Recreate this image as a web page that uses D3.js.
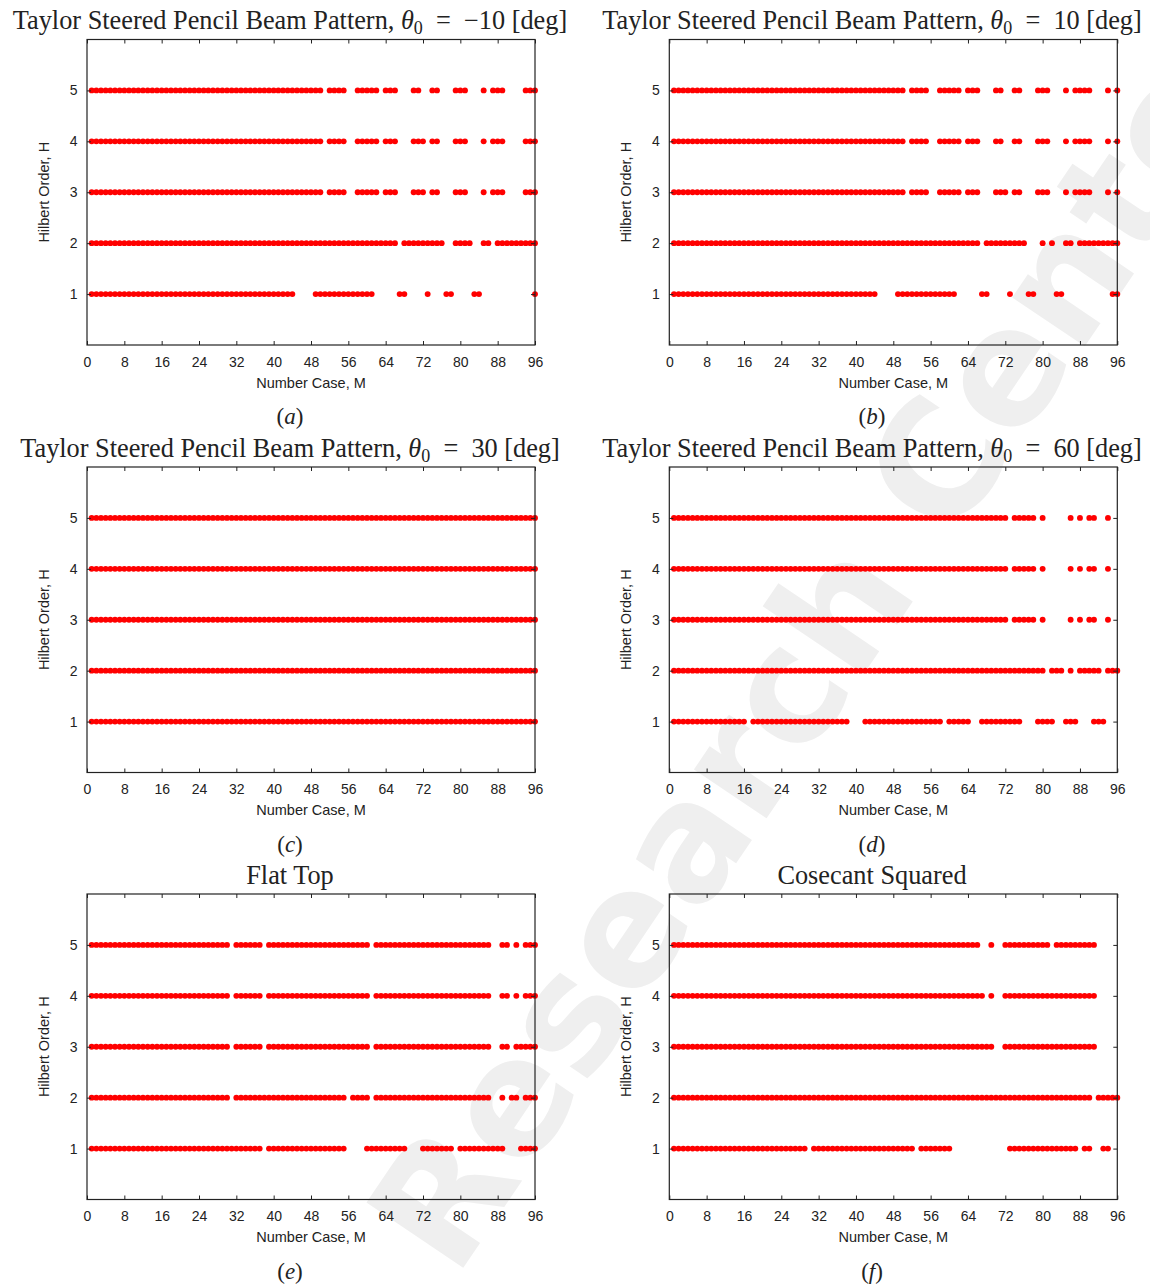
<!DOCTYPE html>
<html>
<head>
<meta charset="utf-8">
<script src="https://cdn.jsdelivr.net/npm/d3@7"></script>
<style>
  body { margin: 0; background: #fff; }
  .tick text { font-family: "Liberation Sans", Arial, sans-serif; font-size: 14px; fill: #222; }
  .axisTitle { font-family: "Liberation Sans", Arial, sans-serif; font-size: 14.5px; fill: #222; }
  .serif { font-family: "Liberation Serif", "Times New Roman", serif; fill: #222; }
</style>
</head>
<body>
<svg id="fig" width="1150" height="1288"></svg>
<script>
// tick labels
const xTicks = [0, 8, 16, 24, 32, 40, 48, 56, 64, 72, 80, 88, 96];
const hTicks = [1, 2, 3, 4, 5];

// panel titles
const steerAngles = [-10, 10, 30, 60];
const shapeTitles = ['Flat Top', 'Cosecant Squared'];
const subLabels = ['a', 'b', 'c', 'd', 'e', 'f'];

// cases M found for each Hilbert order, as [first, last] runs (rows H=1..5)
const runsA = [
  [[1, 44], [49, 61], [67, 68], [73, 73], [77, 78], [83, 84], [96, 96]],
  [[1, 66], [68, 76], [79, 82], [85, 86], [88, 96]],
  [[1, 50], [52, 55], [58, 62], [64, 66], [70, 72], [74, 75], [79, 81], [85, 85], [87, 89], [94, 96]],
  [[1, 50], [52, 55], [58, 62], [64, 66], [70, 72], [74, 75], [79, 81], [85, 85], [87, 89], [94, 96]],
  [[1, 50], [52, 55], [58, 62], [64, 66], [70, 71], [74, 75], [79, 81], [85, 85], [87, 89], [94, 96]]
];
const runsB = [
  [[1, 44], [49, 61], [67, 68], [73, 73], [77, 78], [83, 84], [95, 96]],
  [[1, 66], [68, 76], [80, 80], [82, 82], [85, 86], [88, 96]],
  [[1, 50], [52, 55], [58, 62], [64, 66], [70, 72], [74, 75], [79, 81], [85, 85], [87, 90], [94, 94], [96, 96]],
  [[1, 50], [52, 55], [58, 62], [64, 66], [70, 71], [74, 75], [79, 81], [85, 85], [87, 90], [94, 94], [96, 96]],
  [[1, 50], [52, 55], [58, 62], [64, 66], [70, 71], [74, 75], [79, 81], [85, 85], [87, 90], [94, 94], [96, 96]]
];
const runsC = [
  [[1, 96]],
  [[1, 96]],
  [[1, 96]],
  [[1, 96]],
  [[1, 96]]
];
const runsD = [
  [[1, 16], [18, 38], [42, 58], [60, 64], [67, 75], [79, 82], [85, 87], [91, 93]],
  [[1, 80], [82, 84], [86, 86], [88, 92], [94, 96]],
  [[1, 72], [74, 78], [80, 80], [86, 86], [88, 88], [90, 91], [94, 94]],
  [[1, 72], [74, 78], [80, 80], [86, 86], [88, 88], [90, 91], [94, 94]],
  [[1, 72], [74, 78], [80, 80], [86, 86], [88, 88], [90, 91], [94, 94]]
];
const runsE = [
  [[1, 37], [39, 55], [60, 68], [72, 78], [80, 89], [93, 96]],
  [[1, 30], [32, 55], [57, 60], [62, 86], [89, 89], [91, 92], [94, 96]],
  [[1, 30], [32, 37], [39, 60], [62, 86], [89, 90], [92, 96]],
  [[1, 30], [32, 37], [39, 60], [62, 86], [89, 90], [92, 92], [94, 96]],
  [[1, 30], [32, 37], [39, 60], [62, 86], [89, 90], [92, 92], [94, 96]]
];
const runsF = [
  [[1, 29], [31, 52], [54, 60], [73, 87], [89, 90], [93, 94]],
  [[1, 90], [92, 96]],
  [[1, 69], [72, 91]],
  [[1, 67], [69, 69], [72, 91]],
  [[1, 66], [69, 69], [72, 81], [83, 91]]
];

//layout
const plotW = 448;
const plotH = 305.5;
const colLeft = [87, 669.3];
const colMid = [290, 872];
const rowTop = [39.5, 467, 894];

const panels = [runsA, runsB, runsC, runsD, runsE, runsF].map((runs, i) => ({
      runs: runs,
      left: colLeft[i % 2],
      mid: colMid[i % 2],
      top: rowTop[Math.floor(i / 2)],
      label: subLabels[i],
      angle: i < 4 ? steerAngles[i] : null,
      title: i < 4 ? null : shapeTitles[i - 4]
}));

const fig = d3.select('#fig');

//watermark, behind everything
fig.append('text')
      .attr('transform', 'translate(455,1280) rotate(-56)')
      .text('Research Center')
      .style('font-family', '"DejaVu Sans", sans-serif')
      .style('font-weight', 'bold')
      .style('font-size', '160px')
      .style('fill', '#efefef');

const x = d3.scaleLinear().domain([0, 96]).range([0, plotW]);
const y = d3.scaleLinear().domain([0, 6]).range([plotH, 0]);

panels.forEach((p) => {
      const g = fig.append('g')
            .attr('transform', `translate(${p.left},${p.top})`);

      //expand the runs into single cases
      const pts = [];
      p.runs.forEach((row, i) => {
            row.forEach(([a, b]) => {
                  d3.range(a, b + 1).forEach((m) => pts.push({ m: m, h: hTicks[i] }));
            });
      });

      g.selectAll('circle')
            .data(pts)
            .enter()
            .append('circle')
            .attr('cx', (d) => x(d.m))
            .attr('cy', (d) => y(d.h))
            .attr('r', 2.95)
            .style('fill', '#ff0000');

      //axes, ticks pointing inwards
      const axes = [
            [d3.axisBottom(x).tickValues(xTicks).tickPadding(12), `translate(0,${plotH})`],
            [d3.axisTop(x).tickValues(xTicks).tickFormat(''), 'translate(0,0)'],
            [d3.axisLeft(y).tickValues(hTicks).tickFormat(d3.format('d')).tickPadding(9.5), 'translate(0,0)'],
            [d3.axisRight(y).tickValues(hTicks).tickFormat(''), `translate(${plotW},0)`]
      ];
      axes.forEach(([ax, tr]) => {
            g.append('g')
                  .attr('transform', tr)
                  .style('color', '#222')
                  .call(ax.tickSizeInner(-4).tickSizeOuter(0))
                  .call((s) => s.select('.domain').remove());
      });

      g.append('rect')
            .attr('width', plotW)
            .attr('height', plotH)
            .style('fill', 'none')
            .style('stroke', '#222')
            .style('stroke-width', 1.2);

      g.append('text')
            .attr('class', 'axisTitle')
            .attr('x', plotW / 2)
            .attr('y', plotH + 42.5)
            .attr('text-anchor', 'middle')
            .text('Number Case, M');

      g.append('text')
            .attr('class', 'axisTitle')
            .attr('transform', `translate(-38.5,${plotH / 2}) rotate(-90)`)
            .attr('text-anchor', 'middle')
            .text('Hilbert Order, H');

      //title
      const t = fig.append('text')
            .attr('class', 'serif')
            .attr('x', p.mid)
            .attr('y', p.top - 10.3)
            .attr('text-anchor', 'middle')
            .style('font-size', '26.3px');
      if (p.angle === null) {
            t.text(p.title);
      } else {
            t.append('tspan').text('Taylor Steered Pencil Beam Pattern, ');
            t.append('tspan').style('font-style', 'italic').text('θ');
            t.append('tspan').attr('dy', 5).style('font-size', '18px').text('0');
            const a = p.angle < 0 ? `\u2212${Math.abs(p.angle)}` : `${p.angle}`;
            t.append('tspan').attr('dy', -5).text(`\u2002=\u2002${a} [deg]`);
      }

      //sub-figure label
      const s = fig.append('text')
            .attr('class', 'serif')
            .attr('x', p.mid)
            .attr('y', p.top + plotH + 79)
            .attr('text-anchor', 'middle')
            .style('font-size', '23px');
      s.append('tspan').text('(');
      s.append('tspan').style('font-style', 'italic').text(p.label);
      s.append('tspan').text(')');
});
</script>
</body>
</html>
